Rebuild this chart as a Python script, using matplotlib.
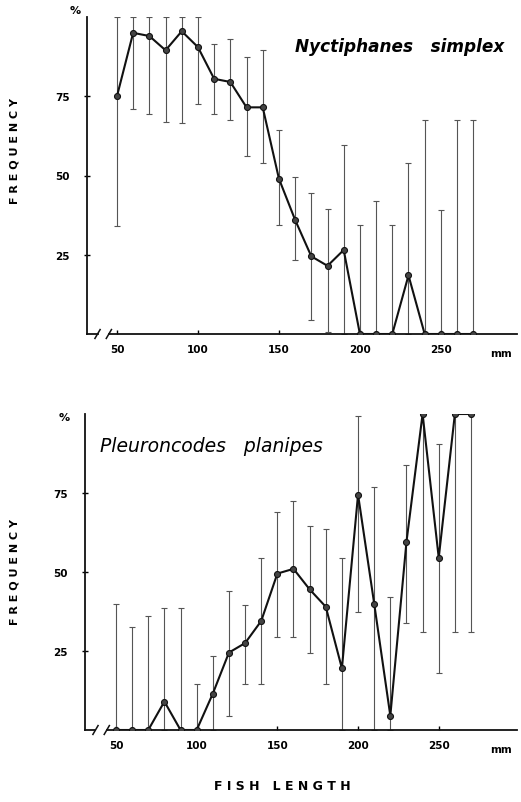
import numpy as np
import matplotlib
matplotlib.use("Agg")
import matplotlib.pyplot as plt

# fish length classes (mm)
LENGTHS = [50, 60, 70, 80, 90, 100, 110, 120, 130, 140, 150, 160,
           170, 180, 190, 200, 210, 220, 230, 240, 250, 260, 270]

# Nyctiphanes simplex: frequency (%) and range of the error bars
NYC_FREQ = [75, 95, 94, 89.5, 95.5, 90.5, 80.5, 79.5, 71.5, 71.5, 49, 36,
            24.5, 21.5, 26.5, 0, 0, 0, 18.5, 0, 0, 0, 0]
NYC_LOW = [34, 71, 69.5, 67, 66.5, 72.5, 69.5, 67.5, 56, 54, 34.5, 23.5,
           4.5, 0.5, 0, 0, 0, 0, 0, 0, 0, 0, 0]
NYC_HIGH = [100, 100, 100, 100, 100, 100, 91.5, 93, 87.5, 89.5, 64.5, 49.5,
            44.5, 39.5, 59.5, 34.5, 42, 34.5, 54, 67.5, 39, 67.5, 67.5]

# Pleuroncodes planipes
PLE_FREQ = [0, 0, 0, 9, 0, 0, 11.5, 24.5, 27.5, 34.5, 49.5, 51,
            44.5, 39, 19.5, 74.5, 40, 4.5, 59.5, 100, 54.5, 100, 100]
PLE_LOW = [0, 0, 0, 0, 0, 0, 0, 4.5, 14.5, 14.5, 29.5, 29.5,
           24.5, 14.5, 0, 37.5, 0, 0, 34, 31, 18, 31, 31]
PLE_HIGH = [40, 32.5, 36, 38.5, 38.5, 14.5, 23.5, 44, 39.5, 54.5, 69, 72.5,
            64.5, 63.5, 54.5, 99.5, 77, 42, 84, 100, 90.5, 100, 100]

X_TICKS = [50, 100, 150, 200, 250]
Y_TICKS = [25, 50, 75]

W, H = 521, 803
fig = plt.figure(figsize=(W / 100, H / 100), dpi=100)
fig.patch.set_facecolor("white")


def px_axes(x0, y0, x1, y1):
    # pixel box (left, top, right, bottom) -> figure fractions
    return fig.add_axes([x0 / W, 1 - y1 / H, (x1 - x0) / W, (y1 - y0) / H])


def draw_panel(ax, freq, low, high, xlim):
    x = np.array(LENGTHS)
    f = np.array(freq)
    yerr = [f - np.array(low), np.array(high) - f]
    ax.errorbar(x, f, yerr=yerr, fmt="none", ecolor="#555555",
                elinewidth=0.8, capsize=2.0, capthick=0.8, zorder=2)
    ax.plot(x, f, "-", color="#111111", lw=1.5, zorder=3)
    ax.plot(x, f, "o", ms=4.3, mfc="#444444", mec="#111111", mew=0.8, zorder=4)

    ax.set_xlim(*xlim)
    ax.set_ylim(0, 100)
    for s in ["top", "right", "bottom"]:
        ax.spines[s].set_visible(False)
    ax.spines["left"].set_linewidth(1.3)
    ax.spines["left"].set_color("#111111")

    # x axis with break marks
    x0 = xlim[0]
    ax.plot([x0, x0 + 6.5], [0, 0], color="#111111", lw=1.3, clip_on=False)
    ax.plot([x0 + 13.5, xlim[1]], [0, 0], color="#111111", lw=1.3, clip_on=False)
    for xb in (x0 + 6.5, x0 + 13.5):
        ax.plot([xb - 1.6, xb + 1.6], [-1.4, 1.4], color="#111111", lw=1.1,
                clip_on=False)

    ax.set_xticks(X_TICKS)
    ax.set_xticklabels([str(v) for v in X_TICKS], fontsize=7.5,
                       fontweight="bold")
    ax.tick_params(axis="x", direction="in", length=3, width=1, pad=7)
    ax.set_yticks(Y_TICKS)
    ax.set_yticklabels([str(v) for v in Y_TICKS], fontsize=7.5,
                       fontweight="bold")
    ax.tick_params(axis="y", direction="inout", length=5, width=1, pad=10)
    ax.text(xlim[1] - 3, -4.5, "mm", fontsize=7.5, fontweight="bold",
            ha="right", va="top")


ax1 = px_axes(87, 18, 517, 335)
draw_panel(ax1, NYC_FREQ, NYC_LOW, NYC_HIGH, (31.5, 297))
ax1.text(0.97, 0.91, "Nyctiphanes   simplex", transform=ax1.transAxes,
         fontsize=12.2, fontweight="bold", style="italic", ha="right",
         va="center")
ax1.text(-0.015, 1.005, "%", transform=ax1.transAxes, fontsize=8,
         fontweight="bold", ha="right", va="bottom")

ax2 = px_axes(85, 415, 517, 731)
draw_panel(ax2, PLE_FREQ, PLE_LOW, PLE_HIGH, (30.8, 298.5))
ax2.text(0.035, 0.90, "Pleuroncodes   planipes", transform=ax2.transAxes,
         fontsize=13.5, style="italic", ha="left", va="center")
ax2.text(-0.035, 0.99, "%", transform=ax2.transAxes, fontsize=8,
         fontweight="bold", ha="right", va="center")

fig.text(15 / W, 1 - 151 / H, "F R E Q U E N C Y", rotation=90,
         fontsize=8, fontweight="bold", ha="center", va="center")
fig.text(15 / W, 1 - 572 / H, "F R E Q U E N C Y", rotation=90,
         fontsize=8, fontweight="bold", ha="center", va="center")
fig.text(282 / W, 1 - 787 / H, "F I S H   L E N G T H", fontsize=9,
         fontweight="bold", ha="center", va="center")

fig.savefig("out.png", dpi=100)
